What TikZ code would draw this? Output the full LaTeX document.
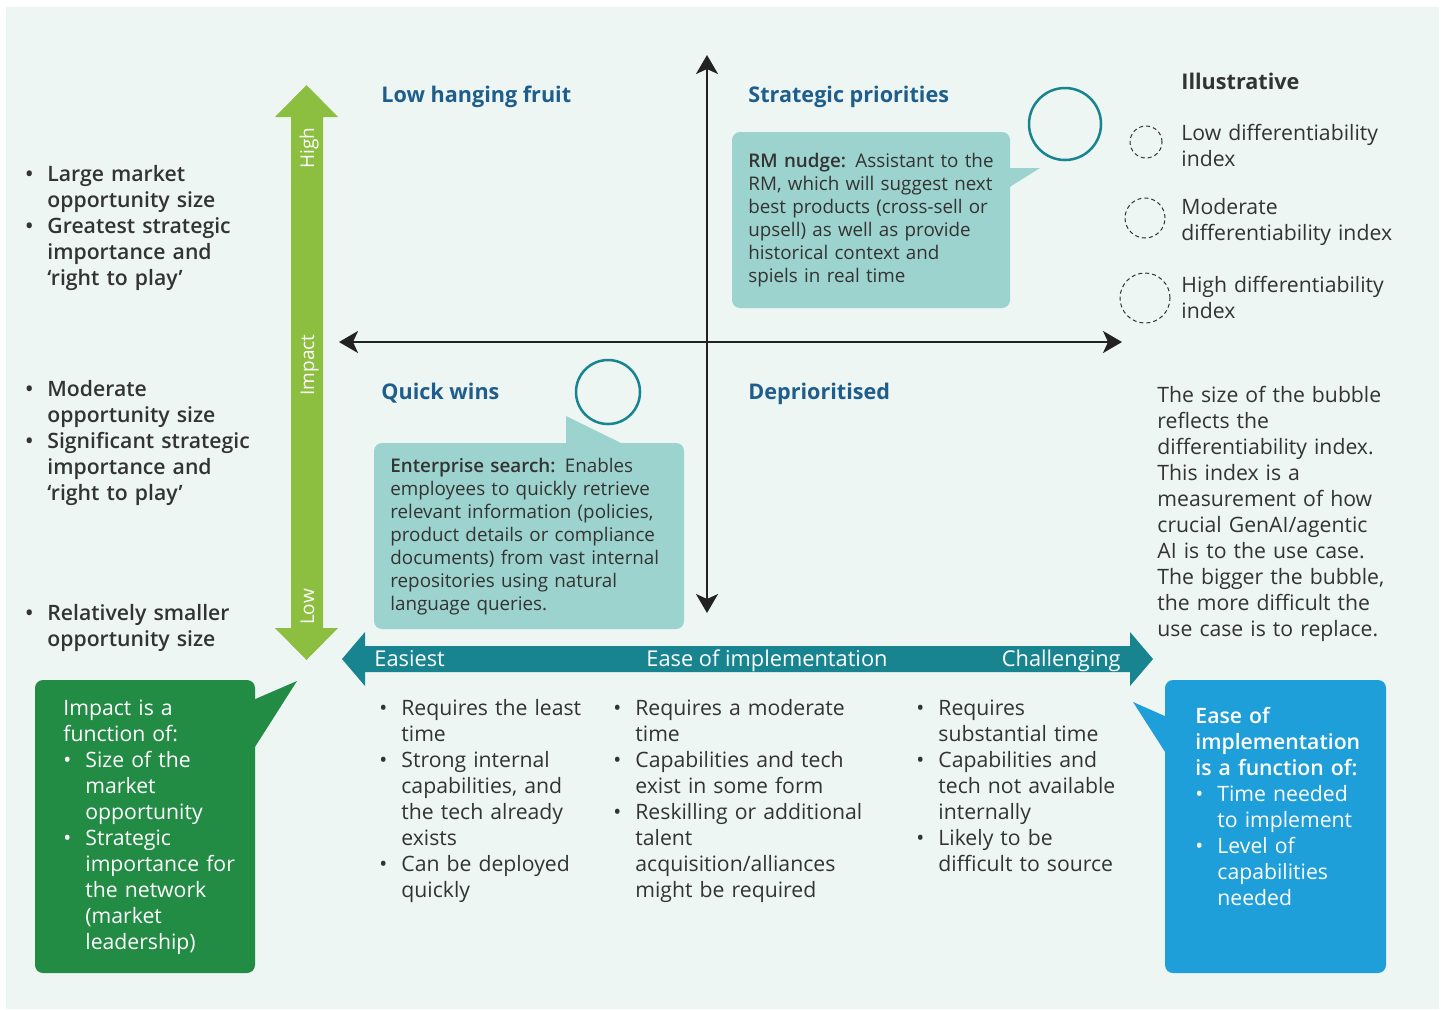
\documentclass[tikz,border=0pt]{standalone}
\usepackage{fontspec}
\setmainfont{Open Sans}
\IfFontExistsTF{Open Sans SemiBold}{\newfontfamily\sbfont{Open Sans SemiBold}}{%
  \IfFontExistsTF{Open Sans Semibold}{\newfontfamily\sbfont{Open Sans Semibold}}{%
    \newfontfamily\sbfont{Open Sans}[FakeBold=1.2]}}
\usetikzlibrary{arrows.meta}

\definecolor{bgmint}{HTML}{EDF6F3}
\definecolor{impactgreen}{HTML}{8CBF3F}
\definecolor{easeteal}{HTML}{17848F}
\definecolor{calloutteal}{HTML}{9DD3CE}
\definecolor{titleblue}{HTML}{1F5E8C}
\definecolor{boxgreen}{HTML}{228B44}
\definecolor{boxblue}{HTML}{1E9FDA}
\definecolor{textgray}{HTML}{333333}
\definecolor{axisgray}{HTML}{222222}

\newcommand{\bitem}{\makebox[11pt][l]{\textbullet}}
\newcommand{\hang}{\hspace*{11pt}}

\tikzstyle{axis}=[line width=1pt, axisgray, {Stealth[length=9.5pt,width=11pt,inset=2.5pt]}-{Stealth[length=9.5pt,width=11pt,inset=2.5pt]}]
\tikzstyle{arrowlabel}=[white, rotate=90, anchor=base, inner sep=0pt, font=\fontsize{9.5}{12}\selectfont]
\tikzstyle{easelabel}=[white, inner sep=0pt, font=\fontsize{10.9}{12}\selectfont]
\tikzstyle{quadtitle}=[titleblue, anchor=base west, inner sep=0pt, font=\bfseries\fontsize{10.8}{13}\selectfont]
\tikzstyle{bodytext}=[textgray, anchor=base west, inner sep=0pt, align=left, text width=140pt, font=\fontsize{10.6}{13}\selectfont]
\tikzstyle{sidetext}=[bodytext, font=\sbfont\fontsize{10.6}{13}\selectfont]
\tikzstyle{calltext}=[textgray, anchor=base west, inner sep=0pt, align=left, text width=160pt, font=\fontsize{9.4}{11.5}\selectfont]
\tikzstyle{boxtext}=[bodytext, white]
\tikzstyle{bubble}=[circle, draw=easeteal, line width=1.25pt, inner sep=0pt]
\tikzstyle{sizedot}=[circle, draw=textgray, dashed, dash pattern=on 2pt off 1.5pt, line width=0.5pt, inner sep=0pt]

\begin{document}
\begin{tikzpicture}[x=0.5pt,y=-0.5pt]
\useasboundingbox (0,0) rectangle (1443,1009);
\fill[white] (0,0) rectangle (1443,1009);
\fill[bgmint] (6,7) rectangle (1439,1009);

% impact axis
\fill[impactgreen] (306.5,85) -- (338,117) -- (323,117) -- (323,628) -- (338,628) -- (306.5,660)
  -- (275,628) -- (291,628) -- (291,117) -- (275,117) -- cycle;
\node[arrowlabel] (high) at (314,148) {High};
\node[arrowlabel] (impact) at (314,365) {Impact};
\node[arrowlabel] (low) at (314,607) {Low};

% ease axis
\fill[easeteal] (342,659) -- (365,632) -- (365,646) -- (1130,646) -- (1130,632) -- (1153,659)
  -- (1130,686) -- (1130,672) -- (365,672) -- (365,686) -- cycle;
\node[easelabel, anchor=base west] (easiest) at (374,666) {Easiest};
\node[easelabel, anchor=base] (ease) at (767,666) {Ease of implementation};
\node[easelabel, anchor=base east] (challenging) at (1121,666) {Challenging};

% quadrant cross
\coordinate (ytop) at (707,55);
\coordinate (ybot) at (707,613);
\coordinate (xleft) at (339,342);
\coordinate (xright) at (1122,342);
\draw[axis] (ybot) -- (ytop);
\draw[axis] (xleft) -- (xright);

\node[quadtitle] (lowhanging) at (381,102) {Low hanging fruit};
\node[quadtitle] (strategic) at (748,102) {Strategic priorities};
\node[quadtitle] (quickwins) at (381,399) {Quick wins};
\node[quadtitle] (deprio) at (748,399) {Deprioritised};

% use case callouts
\fill[calloutteal, rounded corners=4pt] (732,132) rectangle (1010,308);
\fill[calloutteal] (1008,168) -- (1040,168) -- (1008,188) -- cycle;
\node[bubble, minimum size=36pt] (rmbubble) at (1065,124) {};
\node[calltext] (rmtext) at (748,167) {{\sbfont RM nudge:} Assistant to the\\RM, which will suggest next\\best products (cross-sell or\\upsell) as well as provide\\historical context and\\spiels in real time};

\fill[calloutteal, rounded corners=4pt] (374,443) rectangle (684,629);
\fill[calloutteal] (566,445) -- (566,416) -- (625,445) -- cycle;
\node[bubble, minimum size=32pt] (searchbubble) at (608,392) {};
\node[calltext] (searchtext) at (390,472) {{\sbfont Enterprise search:} Enables\\employees to quickly retrieve\\relevant information (policies,\\product details or compliance\\documents) from vast internal\\repositories using natural\\language queries.};

% impact levels
\node[sidetext] (highlist) at (25,181) {\bitem Large market\\\hang opportunity size\\\bitem Greatest strategic\\\hang importance and\\\hang ‘right to play’};
\node[sidetext] (midlist) at (25,396) {\bitem Moderate\\\hang opportunity size\\\bitem Significant strategic\\\hang importance and\\\hang ‘right to play’};
\node[sidetext] (lowlist) at (25,620) {\bitem Relatively smaller\\\hang opportunity size};

% ease levels
\node[bodytext] (easylist) at (379,715) {\bitem Requires the least\\\hang time\\\bitem Strong internal\\\hang capabilities, and\\\hang the tech already\\\hang exists\\\bitem Can be deployed\\\hang quickly};
\node[bodytext] (modlist) at (613,715) {\bitem Requires a moderate\\\hang time\\\bitem Capabilities and tech\\\hang exist in some form\\\bitem Reskilling or additional\\\hang talent\\\hang acquisition/alliances\\\hang might be required};
\node[bodytext] (hardlist) at (916,715) {\bitem Requires\\\hang substantial time\\\bitem Capabilities and\\\hang tech not available\\\hang internally\\\bitem Likely to be\\\hang difficult to source};

% definition boxes
\fill[boxgreen, rounded corners=4pt] (35,680) rectangle (255,973);
\fill[boxgreen] (253,700) -- (297,681) -- (253,750) -- cycle;
\node[boxtext] (impactdef) at (63,715) {Impact is a\\function of:\\\bitem Size of the\\\hang market\\\hang opportunity\\\bitem Strategic\\\hang importance for\\\hang the network\\\hang (market\\\hang leadership)};

\fill[boxblue, rounded corners=4pt] (1165,680) rectangle (1386,973);
\fill[boxblue] (1167,717) -- (1133,702) -- (1167,755) -- cycle;
\node[boxtext] (easedef) at (1195,723) {{\sbfont Ease of}\\{\sbfont implementation}\\{\sbfont is a function of:}\\\bitem Time needed\\\hang to implement\\\bitem Level of\\\hang capabilities\\\hang needed};

% legend
\node[textgray, anchor=base west, inner sep=0pt, font=\bfseries\fontsize{10.8}{13}\selectfont] (illustrative) at (1181,89) {Illustrative};
\node[sizedot, minimum size=16pt] (lowdot) at (1146,142) {};
\node[sizedot, minimum size=20pt] (moddot) at (1145,218) {};
\node[sizedot, minimum size=25pt] (highdot) at (1145,298) {};
\node[bodytext] (lowkey) at (1181,140) {Low differentiability\\index};
\node[bodytext] (modkey) at (1181,214) {Moderate\\differentiability index};
\node[bodytext] (highkey) at (1181,292) {High differentiability\\index};
\node[bodytext] (bubblenote) at (1157,402) {The size of the bubble\\reflects the\\differentiability index.\\This index is a\\measurement of how\\crucial GenAI/agentic\\AI is to the use case.\\The bigger the bubble,\\the more difficult the\\use case is to replace.};
\end{tikzpicture}
\end{document}
